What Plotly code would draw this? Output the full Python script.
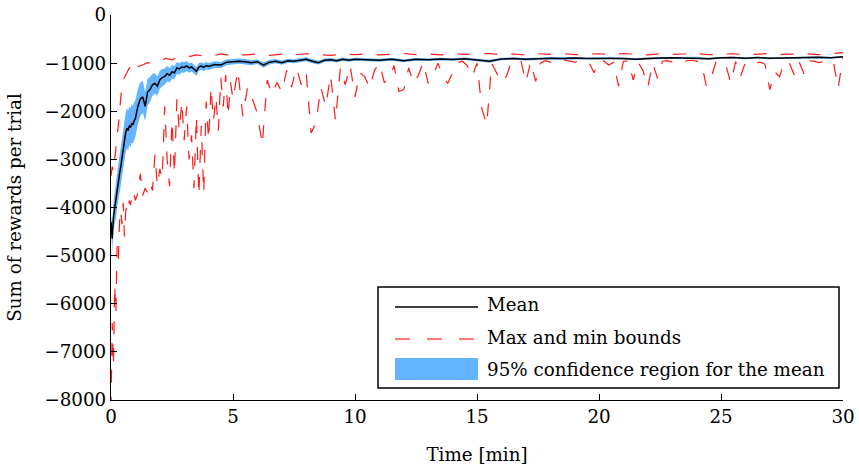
import plotly.graph_objects as go

# ---------------- data ----------------
t_mean = [0, 0.05, 0.1, 0.15, 0.2, 0.25, 0.3, 0.35, 0.4, 0.45, 0.5, 0.55, 0.6, 0.65, 0.7, 0.75, 0.8, 0.85, 0.9, 0.95, 1.0,
          1.1, 1.2, 1.3, 1.4, 1.5, 1.6, 1.7, 1.8, 1.9, 2.0, 2.1, 2.2, 2.3, 2.4, 2.5, 2.6, 2.7, 2.8, 2.9, 3.0,
          3.1, 3.2, 3.3, 3.4, 3.5, 3.6, 3.7, 3.8, 3.9, 4.0,
          4.25, 4.5, 4.75, 5.0, 5.25, 5.5, 5.75, 6.0, 6.25, 6.5, 6.75, 7.0, 7.25, 7.5, 7.75, 8.0, 8.25, 8.5, 8.75, 9.0,
          9.25, 9.5, 9.75, 10.0,
          10.5, 11.0, 11.5, 12.0, 12.5, 13.0, 13.5, 14.0, 14.5, 15.0, 15.5, 16.0, 16.5, 17.0, 17.5, 18.0, 18.5, 19.0,
          19.5, 20.0, 20.5, 21.0, 21.5, 22.0, 22.5, 23.0, 23.5, 24.0, 24.5, 25.0, 25.5, 26.0, 26.5, 27.0, 27.5, 28.0,
          28.5, 29.0, 29.5, 30.0]

mean_reward = [-4300, -4650, -4200, -4000, -3900, -3650, -3450, -3300, -3150, -2950, -2800, -2600, -2450, -2350, -2400,
               -2300, -2340, -2250, -2280, -2200, -2150,
               -1900, -1750, -1700, -1900, -1600, -1550, -1450, -1420, -1480, -1350, -1300, -1280, -1220, -1250, -1180,
               -1200, -1100, -1120, -1080, -1090,
               -1060, -1100, -1080, -1120, -1170, -1080, -1060, -1090, -1050, -1070,
               -1030, -1040, -980, -970, -960, -970, -990, -970, -1040, -980, -960, -990, -950, -960, -940, -920, -960,
               -990, -940, -930, -950, -920, -940, -920,
               -930, -940, -920, -950, -920, -930, -915, -925, -910, -930, -960, -915, -905, -920, -905, -900, -905,
               -895, -905, -900, -895, -905, -920, -900, -895, -890, -895, -890, -910, -890, -885, -900, -885, -900,
               -890, -895, -885, -880, -890, -870]

ci_half = [150, 250, 300, 320, 340, 360, 380, 390, 400, 410, 420, 420, 410, 420, 410, 400, 410, 400, 390, 400, 380,
           370, 350, 330, 300, 280, 260, 230, 210, 200, 190, 180, 170, 160, 150, 140, 135, 125, 120, 115, 110,
           105, 100, 95, 95, 90, 85, 80, 80, 75, 75,
           70, 65, 60, 58, 55, 55, 52, 50, 55, 48, 45, 45, 42, 42, 40, 40, 45, 40, 38, 36, 36, 35, 34, 33,
           32, 32, 30, 30, 29, 28, 28, 27, 26, 26, 30, 25, 25, 24, 24, 23, 23, 22, 22, 22, 21, 21, 22, 21, 20, 20,
           20, 20, 22, 20, 19, 19, 19, 19, 18, 18, 18, 18, 18, 18]

t_max = [0, 0.05, 0.1, 0.15, 0.2, 0.25, 0.3, 0.35, 0.4, 0.45, 0.5, 0.55, 0.6, 0.65, 0.7, 0.75, 0.8, 0.85, 0.9, 0.95, 1.0,
         1.25, 1.5, 1.75, 2.0, 2.25, 2.5, 2.75, 3.0, 3.25, 3.5, 3.75, 4.0, 4.25, 4.5, 4.75, 5.0,
         5.5, 6.0, 6.5, 7.0, 7.5, 8.0, 8.5, 9.0, 9.5, 10.0, 10.5, 11.0, 11.5, 12.0, 12.5, 13.0, 13.5, 14.0, 14.5,
         15.0, 15.5, 16.0, 16.5, 17.0, 17.5, 18.0, 18.5, 19.0, 19.5, 20.0, 20.5, 21.0, 21.5, 22.0, 22.5, 23.0,
         23.5, 24.0, 24.5, 25.0, 25.5, 26.0, 26.5, 27.0, 27.5, 28.0, 28.5, 29.0, 29.5, 30.0]

max_reward = [-3350, -3150, -3250, -3000, -2900, -2650, -2300, -2050, -1700, -1450, -1350, -1300, -1240, -1180, -1150,
              -1100, -1100, -1110, -1160, -1050, -1080,
              -1050, -990, -1000, -960, -900, -930, -880, -840, -860, -830, -850, -820, -840, -810, -830, -820,
              -830, -810, -840, -815, -830, -805, -820, -840, -810, -825, -805, -830, -815, -800, -825, -810, -830,
              -805, -820, -815, -800, -825, -810, -830, -805, -820, -800, -825, -815, -805, -825, -800, -815, -830,
              -805, -820, -810, -800, -825, -815, -805, -825, -810, -800, -820, -815, -805, -825, -810, -780]

t_min = [0, 0.05, 0.1, 0.15, 0.2, 0.25, 0.3, 0.35, 0.4, 0.45, 0.5, 0.55, 0.6, 0.65, 0.7, 0.75, 0.8, 0.85, 0.9, 0.95, 1.0,
         1.1, 1.2, 1.3, 1.4, 1.5, 1.6, 1.7, 1.8, 1.9, 2.0, 2.1, 2.2, 2.3, 2.4, 2.5, 2.6, 2.7, 2.8, 2.9, 3.0,
         3.1, 3.2, 3.3, 3.4, 3.5, 3.6, 3.7, 3.8, 3.9, 4.0, 4.1, 4.2, 4.3, 4.4, 4.5, 4.6, 4.7, 4.8, 4.9, 5.0,
         5.2, 5.4, 5.6, 5.8, 6.0, 6.2, 6.4, 6.6, 6.8, 7.0, 7.2, 7.4, 7.6, 7.8, 8.0, 8.2, 8.4, 8.6, 8.8, 9.0,
         9.2, 9.4, 9.6, 9.8, 10.0, 10.2, 10.4, 10.6, 10.8, 11.0, 11.2, 11.4, 11.6, 11.8, 12.0, 12.2, 12.4, 12.6,
         12.8, 13.0, 13.2, 13.4, 13.6, 13.8, 14.0, 14.2, 14.4, 14.6, 14.8, 15.0, 15.2, 15.4, 15.6, 15.8, 16.0,
         16.2, 16.4, 16.6, 16.8, 17.0, 17.2, 17.4, 17.6, 17.8, 18.0, 18.2, 18.4, 18.6, 18.8, 19.0, 19.2, 19.4,
         19.6, 19.8, 20.0, 20.2, 20.4, 20.6, 20.8, 21.0, 21.2, 21.4, 21.6, 21.8, 22.0, 22.2, 22.4, 22.6, 22.8,
         23.0, 23.2, 23.4, 23.6, 23.8, 24.0, 24.2, 24.4, 24.6, 24.8, 25.0, 25.2, 25.4, 25.6, 25.8, 26.0, 26.2,
         26.4, 26.6, 26.8, 27.0, 27.2, 27.4, 27.6, 27.8, 28.0, 28.2, 28.4, 28.6, 28.8, 29.0, 29.2, 29.4, 29.6,
         29.8, 30.0]

min_reward = [-8200, -6400, -7300, -5600, -6200, -4800, -5100, -4300, -4050, -4350, -3900, -4600, -4100, -3950, -4050,
              -3850, -3950, -3800, -3900, -3750, -3850,
              -3700, -3300, -3750, -3600, -3700, -3500, -3650, -2900, -3550, -3200,
              -3400, -1900, -3000, -3560, -2200, -3300, -1750, -2400, -1800, -2600,
              -1900, -3000, -2500, -3600, -2100, -3750, -2300, -3700, -1800, -2600,
              -1500, -2200, -1700, -2400, -1300, -1900, -1250, -2100, -1400, -1750,
              -1150, -2100, -1500, -1750, -2050, -2700, -1350, -1650, -1400, -1600, -1150, -1500, -1100, -1450, -1200,
              -2450, -2250, -1500, -1900, -1250, -2200, -1100, -1450, -1050, -1700,
              -1200, -1280, -1520, -1150, -1000, -1400, -1350, -1050, -1590, -1550, -1100, -1420, -1250, -980, -1420,
              -1250, -1000, -1280, -1420, -1200, -990, -960, -1050, -1280, -1000,
              -1950, -2280, -1000, -1200, -1400, -1280, -980, -980, -950, -1400, -970, -1380, -1000, -950, -980, -950,
              -990, -940, -960, -980, -950, -940, -1000, -1200, -950,
              -960, -1040, -980, -1480, -960, -950, -1350, -980, -1150, -1500, -1000, -1320, -960, -950, -980, -960,
              -1000, -950, -940, -960, -1000, -1480, -1300, -960, -950,
              -1050, -1410, -970, -1280, -980, -960, -1000, -980, -1020, -1550, -1180, -1280, -960, -1000, -1240, -970,
              -1220, -950, -960, -990, -970, -990, -960, -1520, -880]

x_ticks = [0, 5, 10, 15, 20, 25, 30]
y_ticks = [-8000, -7000, -6000, -5000, -4000, -3000, -2000, -1000, 0]

legend_labels = ["Mean", "Max and min bounds", "95% confidence region for the mean"]

# ---------------- styles ----------------
FONT = "DejaVu Serif"
FS = 18.3
RED = "#ff1a1a"
BLUE = "rgb(100,180,255)"
DASH = "13px,14px"

ci_upper = [m + h for m, h in zip(mean_reward, ci_half)]
ci_lower = [m - h for m, h in zip(mean_reward, ci_half)]

fig = go.Figure()

fig.add_trace(go.Scatter(
    x=t_mean + t_mean[::-1], y=ci_upper + ci_lower[::-1],
    fill="toself", fillcolor=BLUE, line=dict(width=0), mode="lines",
    hoverinfo="skip", showlegend=False))

fig.add_trace(go.Scatter(x=t_max, y=max_reward, mode="lines",
                         line=dict(color=RED, width=1.2, dash=DASH), showlegend=False))
fig.add_trace(go.Scatter(x=t_min, y=min_reward, mode="lines",
                         line=dict(color=RED, width=1.2, dash=DASH), showlegend=False))
fig.add_trace(go.Scatter(x=t_mean, y=mean_reward, mode="lines",
                         line=dict(color="black", width=1.5), showlegend=False))

# ---------------- custom legend (paper coords) ----------------
W, H, L, B = 732.0, 385.0, 111.0, 400.0
def px(x):
    return (x - L) / W
def py(y):
    return (B - y) / H

fig.add_shape(type="rect", xref="paper", yref="paper", x0=px(378), x1=px(839), y0=py(388), y1=py(287),
              line=dict(color="black", width=1.5), fillcolor="white", layer="above")
fig.add_shape(type="line", xref="paper", yref="paper", x0=px(395), x1=px(478), y0=py(307), y1=py(307),
              line=dict(color="black", width=1.3), layer="above")
fig.add_shape(type="line", xref="paper", yref="paper", x0=px(395), x1=px(478), y0=py(339), y1=py(339),
              line=dict(color="#ff4d4d", width=1.3, dash="15px,17px"), layer="above")
fig.add_shape(type="rect", xref="paper", yref="paper", x0=px(395), x1=px(478), y0=py(380), y1=py(358),
              line=dict(width=0), fillcolor=BLUE, layer="above")
for lab, yy in zip(legend_labels, [304, 337, 369]):
    fig.add_annotation(text=lab, xref="paper", yref="paper", x=px(485), y=py(yy),
                       xanchor="left", yanchor="middle", showarrow=False,
                       font=dict(family=FONT, size=FS, color="black"))

axis_common = dict(showgrid=False, zeroline=False, showline=True, linecolor="black", linewidth=1.2,
                   ticks="inside", ticklen=6, tickwidth=1.2, tickcolor="black", automargin=False,
                   tickfont=dict(family=FONT, size=FS, color="black"), mirror=False)

fig.update_layout(
    width=859, height=470,
    margin=dict(l=111, r=16, t=15, b=70),
    paper_bgcolor="white", plot_bgcolor="white",
    xaxis=dict(range=[0, 30], tickvals=x_ticks,
               title=dict(text="Time [min]", font=dict(family=FONT, size=FS, color="black"), standoff=22),
               **axis_common),
    yaxis=dict(range=[-8000, 0], tickvals=y_ticks,
               title=dict(text="Sum of rewards per trial", font=dict(family=FONT, size=FS, color="black"),
                          standoff=17),
               **axis_common),
    showlegend=False,
)

fig.write_html("out.html")
